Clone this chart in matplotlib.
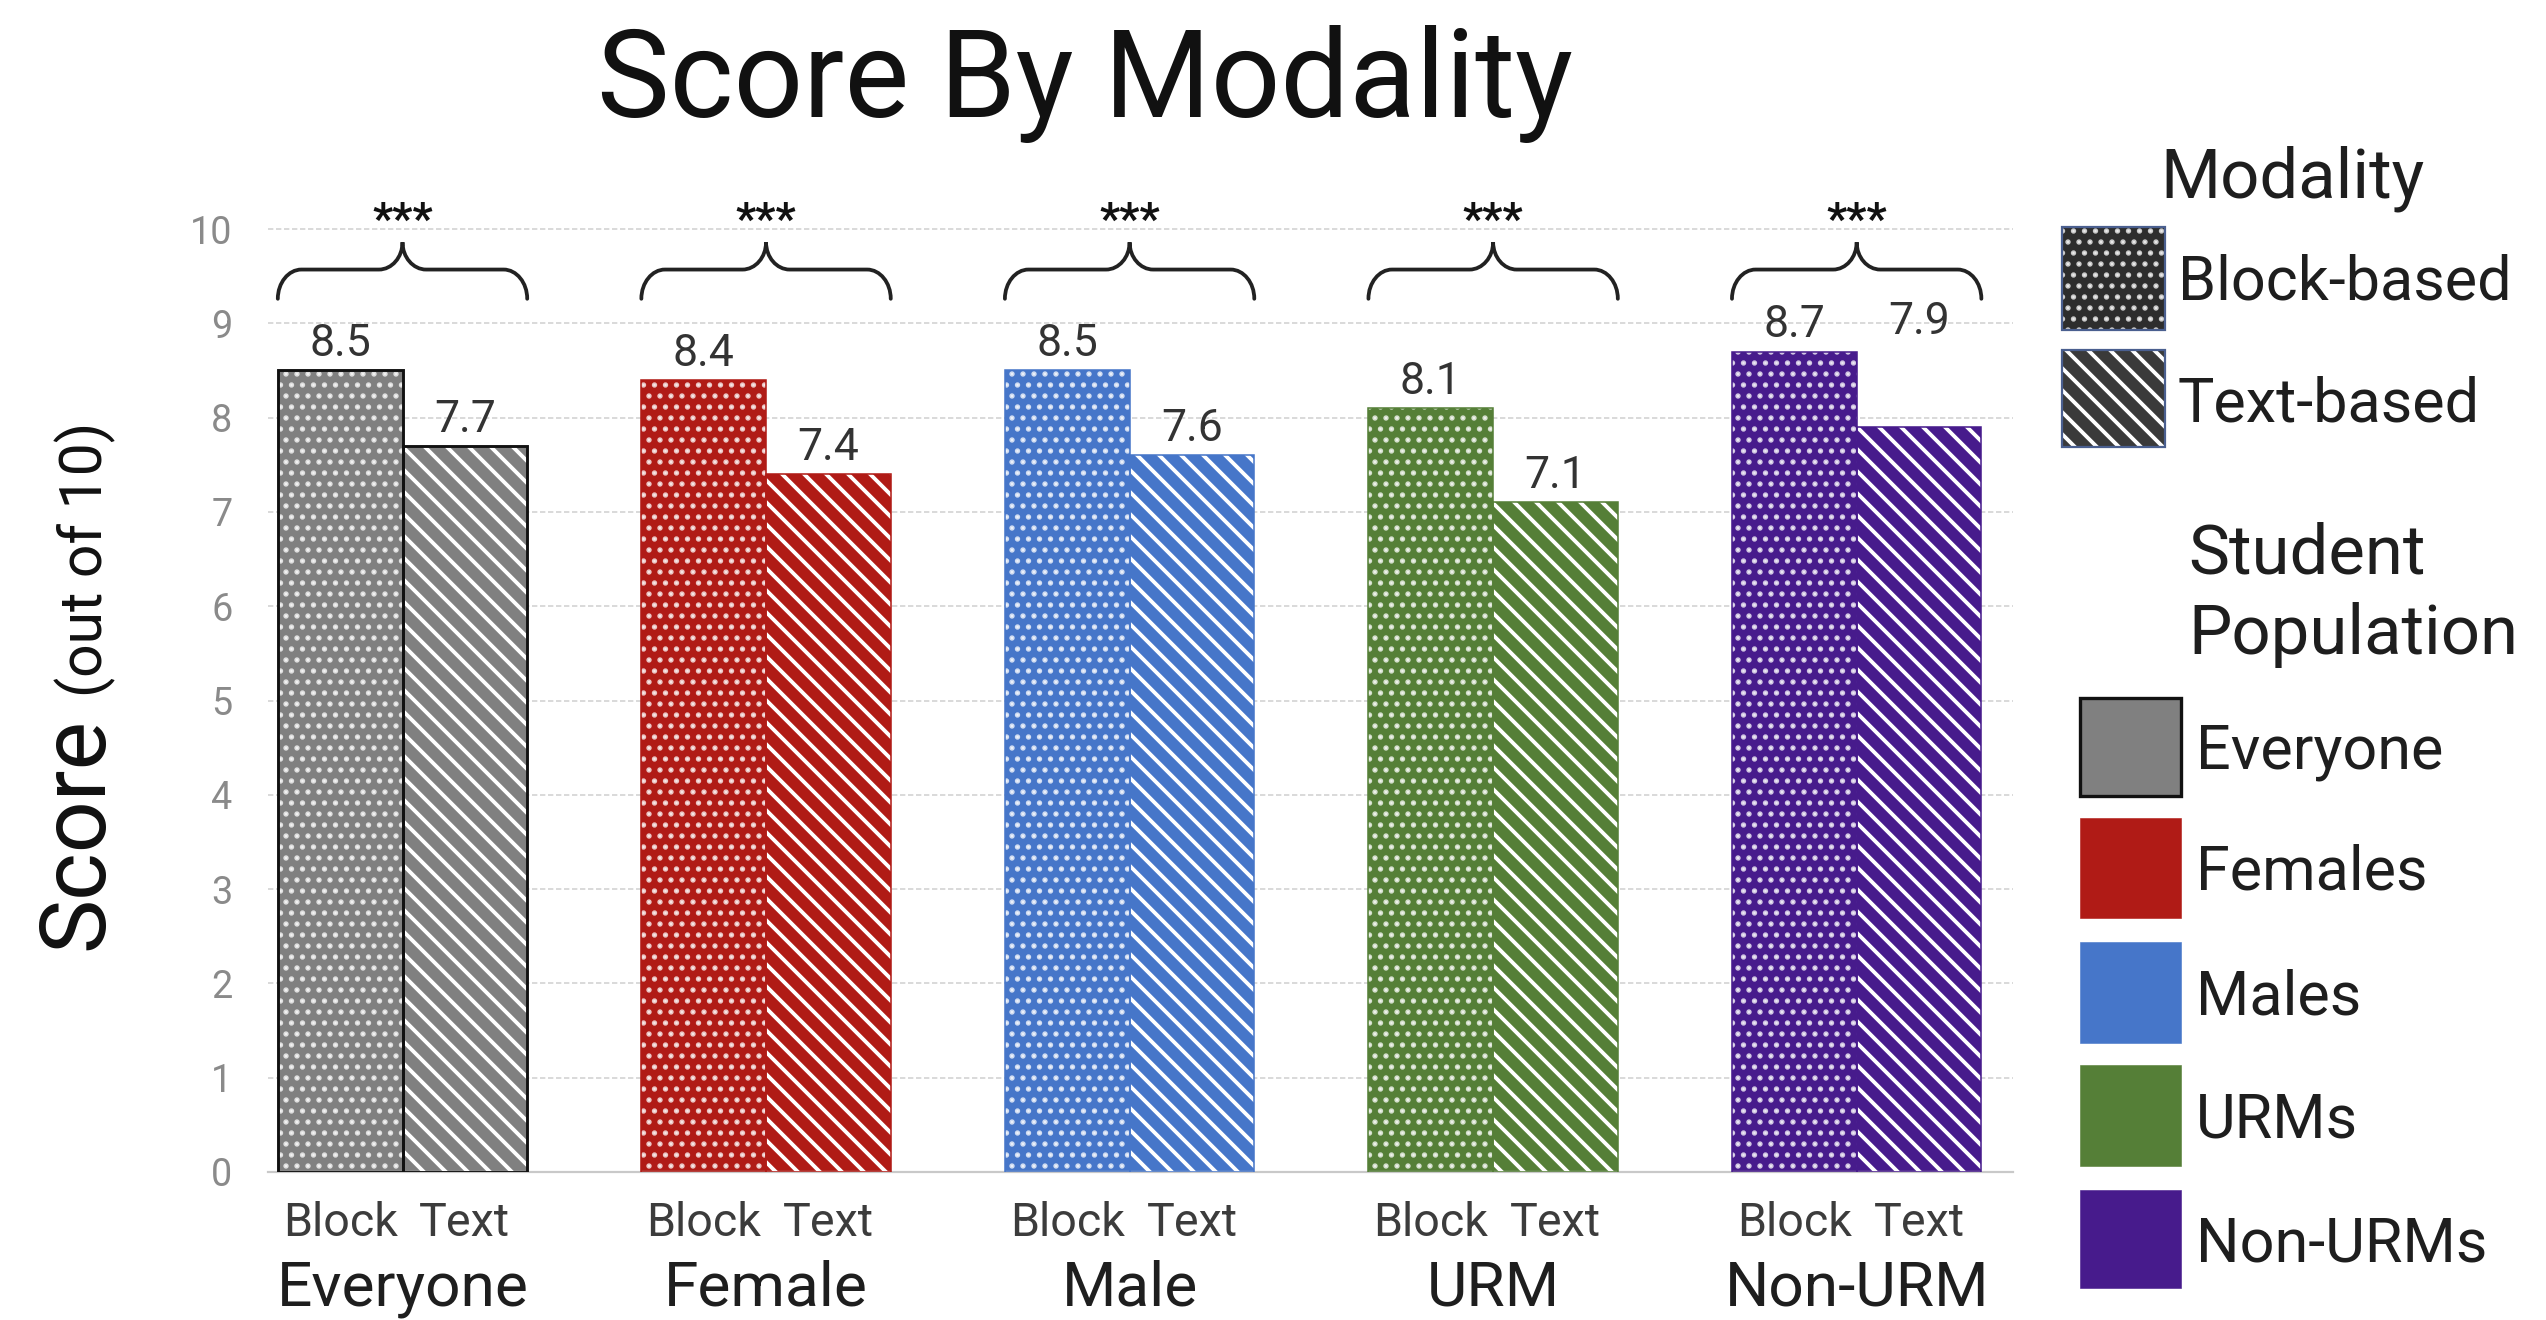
import matplotlib
matplotlib.use('Agg')
import matplotlib.pyplot as plt
from matplotlib.patches import Rectangle, PathPatch
from matplotlib.path import Path
import numpy as np

plt.rcParams['font.family'] = ['Roboto', 'DejaVu Sans']
STRIPE_LW = 4.2
DOT_LW = 3.4
plt.rcParams['hatch.linewidth'] = STRIPE_LW

# ---------------- data ----------------
groups = ['Everyone', 'Female', 'Male', 'URM', 'Non-URM']
modalities = ['Block', 'Text']
block_scores = [8.5, 8.4, 8.5, 8.1, 8.7]
text_scores = [7.7, 7.4, 7.6, 7.1, 7.9]
significance = ['***', '***', '***', '***', '***']
yticks = list(range(0, 11))
legend_modality_title = 'Modality'
legend_modality = ['Block-based', 'Text-based']
legend_population = ['Everyone', 'Females', 'Males', 'URMs', 'Non-URMs']
title = 'Score By Modality'

colors = ['#808080', '#b01b16', '#4676c9', '#557f37', '#471b8c']
edges = ['#111111', '#b01b16', '#4676c9', '#557f37', '#471b8c']

# ---------------- figure ----------------
W, H, DPI = 2546, 1320, 66
S = 80 / DPI          # sizes below are expressed for an 80-dpi canvas
fig = plt.figure(figsize=(W / DPI, H / DPI), dpi=DPI)
fig.patch.set_facecolor('white')


def fx(px):
    return px / W


def fy(py):
    return 1 - py / H


def fs(v):
    return v * S


ax_left, ax_right, ax_bottom_px, px_per_unit = 268, 2013, 1172, 94.3
ymax = 10.6
ax = fig.add_axes([fx(ax_left), fy(ax_bottom_px), fx(ax_right) - fx(ax_left),
                   ymax * px_per_unit / H])

x = np.arange(len(groups))
bw = 0.343


def set_hlw(container, lw):
    for p in container.patches:
        if hasattr(p, 'set_hatch_linewidth'):
            p.set_hatch_linewidth(lw)


for i in range(len(groups)):
    c, e = colors[i], edges[i]
    lw = fs(2.6) if i == 0 else fs(1.4)
    xb, xt = x[i] - bw / 2, x[i] + bw / 2
    # block-based bar: solid colour with white dots
    ax.bar(xb, block_scores[i], bw, color=c, linewidth=0, zorder=2)
    hb = ax.bar(xb, block_scores[i], bw, facecolor='none',
                edgecolor=(1, 1, 1, 0.75), hatch='.', linewidth=0, zorder=3)
    set_hlw(hb, DOT_LW)
    ax.bar(xb, block_scores[i], bw, facecolor='none', edgecolor=e,
           linewidth=lw, zorder=4)
    # text-based bar: coloured diagonal stripes separated by white lines
    ax.bar(xt, text_scores[i], bw, color=c, linewidth=0, zorder=2)
    ht = ax.bar(xt, text_scores[i], bw, facecolor='none', edgecolor='white',
                hatch='\\', linewidth=0, zorder=3)
    set_hlw(ht, STRIPE_LW)
    ax.bar(xt, text_scores[i], bw, facecolor='none', edgecolor=e,
           linewidth=lw, zorder=4)

    # value labels
    if groups[i] == 'Non-URM':
        yb = yt = max(block_scores[i], text_scores[i]) + 0.15
        yt += 0.04
    else:
        yb, yt = block_scores[i] + 0.15, text_scores[i] + 0.15
    ax.text(xb, yb, f'{block_scores[i]:.1f}', ha='center', va='baseline',
            fontsize=fs(40), color='#333333', zorder=5)
    ax.text(xt, yt, f'{text_scores[i]:.1f}', ha='center', va='baseline',
            fontsize=fs(40), color='#333333', zorder=5)

    # curly brace with significance stars
    x0, x1 = x[i] - bw, x[i] + bw
    xc = x[i]
    ybot, ymid, ytop = 9.26, 9.57, 9.86
    r = 0.065
    k = 0.55
    verts = [
        (x0, ybot),
        (x0, ybot + k * (ymid - ybot)), (x0 + (1 - k) * r, ymid), (x0 + r, ymid),
        (xc - r, ymid),
        (xc - (1 - k) * r, ymid), (xc, ymid + (1 - k) * (ytop - ymid)), (xc, ytop),
        (xc, ymid + (1 - k) * (ytop - ymid)), (xc + (1 - k) * r, ymid), (xc + r, ymid),
        (x1 - r, ymid),
        (x1 - (1 - k) * r, ymid), (x1, ybot + k * (ymid - ybot)), (x1, ybot),
    ]
    codes = [Path.MOVETO,
             Path.CURVE4, Path.CURVE4, Path.CURVE4,
             Path.LINETO,
             Path.CURVE4, Path.CURVE4, Path.CURVE4,
             Path.CURVE4, Path.CURVE4, Path.CURVE4,
             Path.LINETO,
             Path.CURVE4, Path.CURVE4, Path.CURVE4]
    ax.add_patch(PathPatch(Path(verts, codes), facecolor='none',
                           edgecolor='#222222', linewidth=fs(3.4),
                           capstyle='round', zorder=5))
    ax.text(xc, 9.95, significance[i], ha='center', va='baseline',
            fontsize=fs(40), color='#111111', fontweight='bold', zorder=5)

ax.set_xlim(-0.37, 4.43)
ax.set_ylim(0, ymax)
ax.set_yticks(yticks)
ax.set_yticklabels([str(t) for t in yticks], fontsize=fs(34), color='#8a8a8a')
tick_x = np.concatenate([x - bw / 2, x + bw / 2])
tick_lab = [modalities[0]] * len(groups) + [modalities[1]] * len(groups)
ax.set_xticks(tick_x)
ax.set_xticklabels(tick_lab, fontsize=fs(42), color='#3c3c3c')
ax.tick_params(axis='both', length=0)
ax.tick_params(axis='y', pad=fs(32))
ax.tick_params(axis='x', pad=fs(26))
for s in ['top', 'right', 'left']:
    ax.spines[s].set_visible(False)
ax.spines['bottom'].set_color('#c9c9c9')
ax.spines['bottom'].set_linewidth(fs(2))
ax.set_axisbelow(True)
ax.yaxis.grid(True, linestyle=(0, (3, 1.5)), color='#d6d6d6', linewidth=fs(1.6))
ax.set_facecolor('white')

for i, g in enumerate(groups):
    ax.text(x[i], -(1306 - ax_bottom_px) / px_per_unit, g, ha='center',
            va='baseline', fontsize=fs(56), color='#1e1e1e', clip_on=False)

# ---------------- title & y label ----------------
fig.text(fx(1085), fy(117), title, ha='center', va='baseline', fontsize=fs(110),
         color='#111111')
fig.text(fx(102), fy(950), 'Score', rotation=90, rotation_mode='anchor',
         ha='left', va='baseline', fontsize=fs(82), color='#111111')
fig.text(fx(102), fy(697), '(out of 10)', rotation=90, rotation_mode='anchor',
         ha='left', va='baseline', fontsize=fs(53), color='#111111')


# ---------------- legends ----------------
def rect_px(x0, y0, x1, y1, hatch_lw=None, **kw):
    r = Rectangle((fx(x0), fy(y1)), fx(x1) - fx(x0), fy(y0) - fy(y1),
                  transform=fig.transFigure, **kw)
    fig.add_artist(r)
    if hatch_lw is not None and hasattr(r, 'set_hatch_linewidth'):
        r.set_hatch_linewidth(hatch_lw)
    return r


fig.text(fx(2160), fy(198), legend_modality_title, ha='left', va='baseline',
         fontsize=fs(62), color='#1e1e1e')
# Block-based swatch
rect_px(2062, 227, 2165, 330, facecolor='#2d2d2d', edgecolor='none', linewidth=0)
rect_px(2062, 227, 2165, 330, hatch_lw=DOT_LW, facecolor='none',
        edgecolor=(1, 1, 1, 0.75), hatch='.', linewidth=0)
rect_px(2062, 227, 2165, 330, facecolor='none', edgecolor='#4a5f8f',
        linewidth=fs(2))
# Text-based swatch
rect_px(2062, 350, 2165, 447, facecolor='#3a3a3a', edgecolor='none', linewidth=0)
rect_px(2062, 350, 2165, 447, hatch_lw=STRIPE_LW, facecolor='none',
        edgecolor='white', hatch='\\', linewidth=0)
rect_px(2062, 350, 2165, 447, facecolor='none', edgecolor='#4a5f8f',
        linewidth=fs(2))
mod_base = [300, 422]
for lab, yb in zip(legend_modality, mod_base):
    fig.text(fx(2178), fy(yb), lab, ha='left', va='baseline', fontsize=fs(55),
             color='#1e1e1e')

fig.text(fx(2188), fy(573), 'Student', ha='left', va='baseline', fontsize=fs(62),
         color='#1e1e1e')
fig.text(fx(2188), fy(654), 'Population', ha='left', va='baseline',
         fontsize=fs(62), color='#1e1e1e')
pop_boxes = [(698, 796), (818, 918), (942, 1043), (1065, 1166), (1190, 1288)]
for j, (lab, (y0, y1)) in enumerate(zip(legend_population, pop_boxes)):
    rect_px(2080, y0, 2181, y1, facecolor=colors[j],
            edgecolor=edges[j] if j == 0 else colors[j],
            linewidth=fs(3) if j == 0 else fs(0.5))
    yc = (y0 + y1) / 2
    fig.text(fx(2196), fy(yc + 22), lab, ha='left', va='baseline',
             fontsize=fs(55), color='#1e1e1e')

fig.savefig('out.png', dpi=DPI, facecolor='white')
